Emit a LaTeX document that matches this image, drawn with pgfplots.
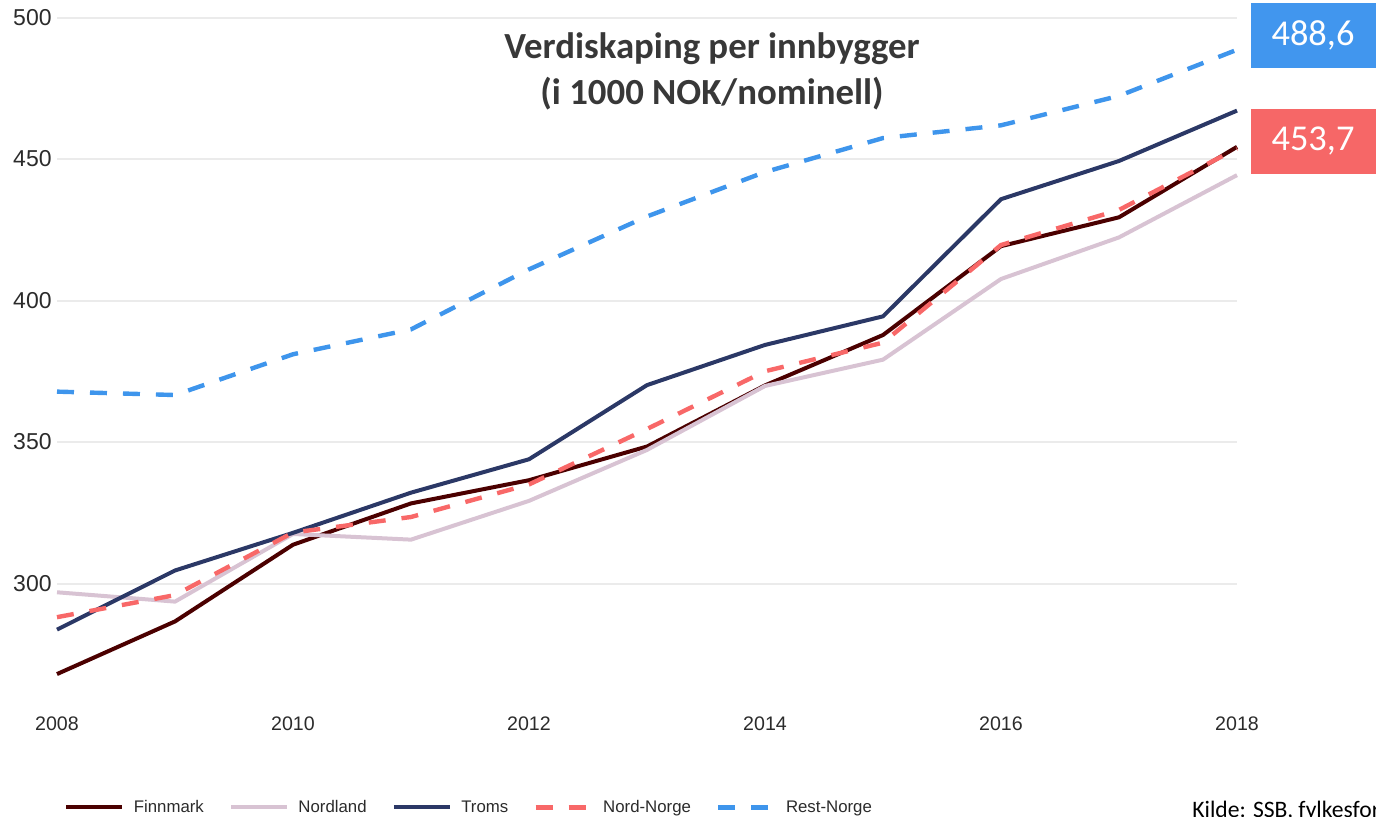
\documentclass[border=0pt]{standalone}
\usepackage{fontspec}
\setmainfont{Liberation Sans}
\newfontfamily\carlito{Carlito}
\usepackage{pgfplots}
\pgfplotsset{compat=1.18}

\definecolor{finn}{HTML}{4B0000}
\definecolor{nordl}{HTML}{D8C3D3}
\definecolor{troms}{HTML}{2B3866}
\definecolor{nordn}{HTML}{F86868}
\definecolor{rest}{HTML}{3E95EC}
\definecolor{boxblue}{HTML}{4196EE}
\definecolor{boxred}{HTML}{F66767}
\definecolor{gridgray}{HTML}{EBEBEB}
\definecolor{ticktext}{HTML}{2B2B2B}
\definecolor{titletext}{HTML}{383838}

\begin{document}
\begin{tikzpicture}
\useasboundingbox (0,0) rectangle (688pt,408pt);
\begin{axis}[
    at={(28.5pt,59.65pt)}, anchor=south west,
    scale only axis, width=590pt, height=339.6pt,
    xmin=2008, xmax=2018, ymin=260, ymax=500,
    xtick={2008,2010,...,2018}, ytick={300,350,...,500},
    axis line style={draw=none}, major tick length=0pt,
    ymajorgrids, grid style={draw=gridgray, line width=1pt},
    /pgf/number format/assume math mode=true,
    /pgf/number format/1000 sep={},
    xticklabel style={font=\fontsize{9.8}{11}\selectfont, text=ticktext,
        inner sep=0pt, anchor=center, yshift=-13.5pt},
    yticklabel style={font=\fontsize{11.5}{13}\selectfont, text=ticktext,
        inner sep=0pt, anchor=east, xshift=-2.5pt},
    clip=false,
    legend columns=5,
    legend image code/.code={\draw[#1] (0pt,0pt) -- (28pt,0pt);},
    legend style={at={(0.006,-0.163)}, anchor=west, draw=none, fill=none,
        inner sep=0pt, font=\fontsize{8.4}{10}\selectfont, text=ticktext,
        nodes={inner sep=0pt, text height=0.72em, text depth=0.22em},
        /tikz/every odd column/.append style={column sep=4.7pt},
        /tikz/every even column/.append style={column sep=12.6pt}},
]
\addplot[finn, line width=2pt] coordinates {
    (2008,268.0) (2009,286.6) (2010,313.7) (2011,328.3) (2012,336.5) (2013,348.4)
    (2014,370.0) (2015,387.8) (2016,419.2) (2017,429.4) (2018,454.3)
};
\addlegendentry{Finnmark}
\addplot[nordl, line width=2pt] coordinates {
    (2008,296.9) (2009,293.6) (2010,317.5) (2011,315.5) (2012,329.2) (2013,347.2)
    (2014,369.8) (2015,379.1) (2016,407.6) (2017,422.3) (2018,444.3)
};
\addlegendentry{Nordland}
\addplot[troms, line width=2pt] coordinates {
    (2008,283.7) (2009,304.6) (2010,317.9) (2011,332.1) (2012,343.9) (2013,370.1)
    (2014,384.3) (2015,394.4) (2016,435.8) (2017,449.3) (2018,467.1)
};
\addlegendentry{Troms}
\addplot[nordn, line width=2.2pt, dash pattern=on 8.5pt off 8pt] coordinates {
    (2008,288.1) (2009,295.9) (2010,318.0) (2011,323.5) (2012,335.0) (2013,354.6)
    (2014,375.0) (2015,385.1) (2016,419.6) (2017,432.0) (2018,453.7)
};
\addlegendentry{Nord-Norge}
\addplot[rest, line width=2.2pt, dash pattern=on 8.5pt off 8pt] coordinates {
    (2008,367.8) (2009,366.6) (2010,381.0) (2011,389.8) (2012,411.0) (2013,429.7)
    (2014,445.4) (2015,457.4) (2016,461.9) (2017,472.3) (2018,488.6)
};
\addlegendentry{Rest-Norge}
\end{axis}

\node[align=center, text=titletext, font=\carlito\bfseries\fontsize{18.4}{23}\selectfont]
    at (356pt,372.5pt) {Verdiskaping per innbygger\\(i 1000 NOK/nominell)};

\fill[boxblue] (625.5pt,374.15pt) rectangle (690pt,406.5pt);
\node[text=white, font=\carlito\fontsize{18.2}{20}\selectfont] at (656.5pt,390.3pt) {488,6};
\fill[boxred] (625.5pt,321.15pt) rectangle (690pt,353.5pt);
\node[text=white, font=\carlito\fontsize{18.2}{20}\selectfont] at (656.5pt,337.3pt) {453,7};

\node[anchor=base west, inner sep=0pt, text=black, font=\carlito\fontsize{11.8}{14}\selectfont]
    at (596pt,-0.5pt) {Kilde: SSB, fylkesfordelt nasjonalregnskap};
\end{tikzpicture}
\end{document}
